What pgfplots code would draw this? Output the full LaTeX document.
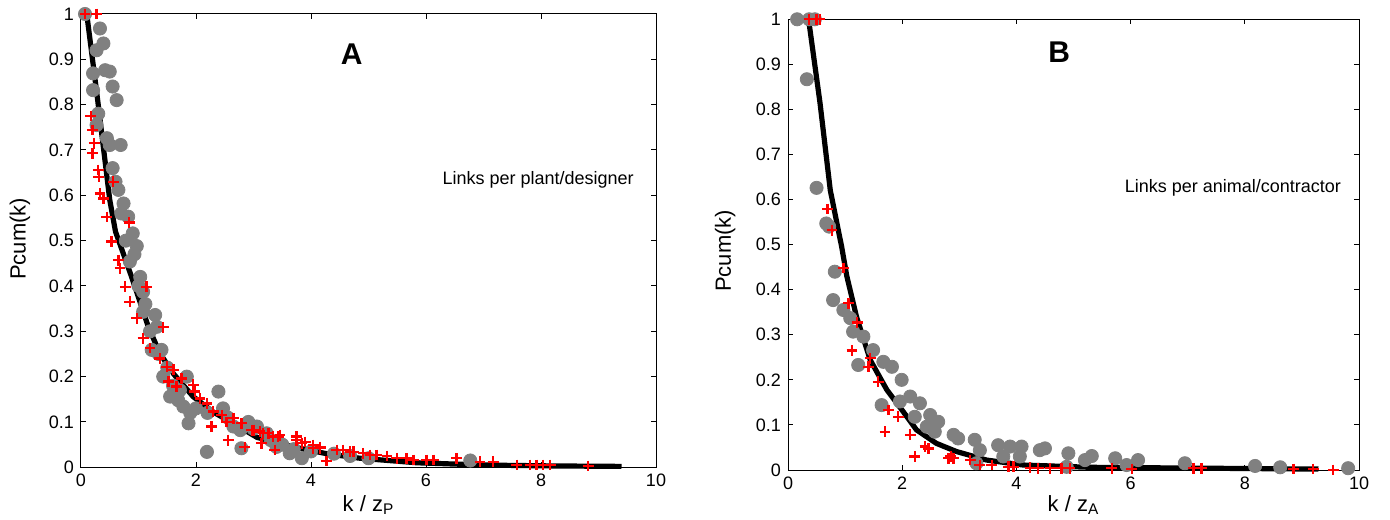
\documentclass[border=0pt]{standalone}
\usepackage{fontspec}
\setmainfont{Liberation Sans}
\usepackage{pgfplots}
\pgfplotsset{compat=1.18}
\definecolor{mgray}{RGB}{128,128,128}
\definecolor{mred}{RGB}{255,0,0}
\pgfplotsset{
  mstyle/.style={
    scale only axis,
    xmin=0, xmax=10, ymin=0, ymax=1,
    xtick={0,2,4,6,8,10},
    ytick={0,0.1,0.2,0.3,0.4,0.5,0.6,0.7,0.8,0.9,1},
    yticklabels={0,0.1,0.2,0.3,0.4,0.5,0.6,0.7,0.8,0.9,1},
    xticklabels={0,2,4,6,8,10},
    tick align=inside,
    major tick length=2.5pt,
    axis line style={line width=0.5pt},
    every tick/.style={black, line width=0.5pt},
    tick label style={font=\fontsize{9}{10}\selectfont},
    label style={font=\fontsize{11}{12}\selectfont},
    clip=false,
  },
  gdots/.style={only marks, mark=*, mark size=3.3pt, mark options={fill=mgray, draw=mgray}},
  rplus/.style={only marks, mark=+, mark size=2.7pt, mark options={draw=mred, line width=1.15pt}},
  fitline/.style={no marks, black, line width=2.6pt},
}
\begin{document}
\begin{tikzpicture}
\path[use as bounding box] (0,0) rectangle (695pt,259.5pt);
% ---------------- Panel A ----------------
\begin{axis}[mstyle, at={(40.5pt,25.85pt)}, anchor=south west,
  width=287.5pt, height=226.65pt,
  xlabel={k / z\textsubscript{P}}, ylabel={Pcum(k)},
  xlabel style={at={(axis description cs:0.5,-0.083)}, anchor=center},
  ylabel style={at={(axis description cs:-0.106,0.504)}, anchor=center, rotate=0},
]
\addplot[gdots] coordinates {
(0.07,1.0)(0.33,0.968)(0.39,0.935)(0.27,0.92)(0.21,0.869)(0.42,0.876)(0.50,0.873)
(0.21,0.832)(0.55,0.84)(0.62,0.81)(0.30,0.78)(0.27,0.755)(0.45,0.726)(0.50,0.711)
(0.69,0.711)(0.55,0.66)(0.60,0.63)(0.65,0.612)(0.74,0.582)(0.70,0.56)(0.82,0.553)(0.90,0.516)
(0.78,0.50)(0.97,0.488)(0.93,0.47)(0.85,0.454)(1.03,0.42)(1.00,0.40)(1.08,0.387)(1.12,0.36)
(1.08,0.343)(1.29,0.336)(1.32,0.31)(1.20,0.30)(1.23,0.259)(1.40,0.259)(1.35,0.25)
(1.50,0.22)(1.43,0.2)(1.60,0.18)(1.72,0.17)(1.55,0.156)(1.69,0.148)(1.78,0.134)(1.84,0.2)
(1.90,0.12)(1.87,0.097)(2.00,0.13)(2.19,0.034)(2.20,0.12)(2.39,0.167)(2.47,0.13)(2.55,0.11)
(2.65,0.09)(2.77,0.082)(2.79,0.042)(2.91,0.10)(3.00,0.085)(3.06,0.09)(3.23,0.075)(3.30,0.06)
(3.40,0.045)(3.50,0.05)(3.63,0.031)(3.70,0.04)(3.84,0.02)(4.00,0.035)(4.40,0.03)
(4.68,0.025)(5.00,0.02)(6.77,0.015)
};
\addplot[rplus] coordinates {
(0.07,1.0)(0.27,1.0)(0.17,0.775)(0.20,0.744)(0.23,0.715)(0.20,0.693)(0.30,0.656)
(0.31,0.641)(0.56,0.63)(0.33,0.604)(0.39,0.593)(0.45,0.552)(0.84,0.54)(0.53,0.498)
(0.65,0.457)(0.68,0.439)(0.77,0.398)(1.14,0.398)(0.85,0.365)(0.97,0.329)(1.43,0.309)
(1.08,0.285)(1.20,0.263)(1.37,0.24)(1.49,0.222)(1.61,0.215)(1.52,0.189)(1.66,0.178)
(1.75,0.196)(1.95,0.182)(1.98,0.167)(2.07,0.152)(2.19,0.141)(2.30,0.123)(2.27,0.09)
(2.45,0.115)(2.53,0.10)(2.56,0.06)(2.65,0.108)(2.79,0.097)(2.85,0.045)(2.97,0.082)
(3.0,0.082)(3.11,0.079)(3.17,0.075)(3.26,0.075)(3.14,0.053)(3.34,0.068)(3.43,0.068)
(3.46,0.071)(3.37,0.038)(3.75,0.068)(3.75,0.06)(3.84,0.053)(3.90,0.056)(4.04,0.049)
(4.04,0.042)(4.16,0.045)(4.16,0.042)(4.27,0.014)(4.45,0.038)(4.56,0.038)(4.68,0.034)
(4.74,0.034)(4.91,0.031)(5.03,0.027)(5.14,0.027)(5.32,0.025)(5.49,0.02)(5.66,0.02)
(5.78,0.016)(6.01,0.016)(6.13,0.016)(6.53,0.02)(6.94,0.012)(7.17,0.012)(7.58,0.005)
(7.81,0.005)(7.92,0.005)(8.04,0.005)(8.16,0.005)(8.82,0.003)
};
\addplot[fitline] coordinates {
(0.10,1.00)(0.29,0.81)(0.50,0.59)(0.60,0.52)(0.74,0.47)(0.88,0.42)(1.06,0.352)
(1.17,0.31)(1.37,0.252)(1.61,0.206)(1.95,0.156)(2.30,0.122)(2.77,0.088)(3.06,0.066)
(3.69,0.045)(4.27,0.030)(4.85,0.020)(5.84,0.010)(6.99,0.005)(8.2,0.003)(9.40,0.002)
};
\node[font=\fontsize{15}{16}\selectfont\bfseries] at (axis cs:4.71,0.912) {A};
\node[font=\fontsize{9}{10}\selectfont] at (axis cs:7.95,0.634) {Links per plant/designer};
\end{axis}
% ---------------- Panel B ----------------
\begin{axis}[mstyle, at={(394pt,24.5pt)}, anchor=south west,
  width=285.5pt, height=225.35pt,
  xlabel={k / z\textsubscript{A}}, ylabel={Pcum(k)},
  xlabel style={at={(axis description cs:0.5,-0.078)}, anchor=center},
  ylabel style={at={(axis description cs:-0.110,0.486)}, anchor=center, rotate=0},
]
\addplot[gdots] coordinates {
(0.16,1.0)(0.37,1.0)(0.47,1.0)(0.33,0.867)(0.50,0.626)(0.67,0.547)(0.72,0.54)
(0.82,0.44)(0.79,0.377)(0.97,0.355)(1.09,0.337)(1.14,0.307)(1.32,0.296)(1.23,0.233)
(1.49,0.266)(1.67,0.24)(1.82,0.229)(1.99,0.2)(1.64,0.144)(1.96,0.152)(2.14,0.163)
(2.31,0.148)(2.22,0.118)(2.49,0.122)(2.63,0.107)(2.57,0.085)(2.43,0.096)(2.90,0.078)
(2.98,0.07)(3.27,0.067)(3.36,0.044)(3.30,0.015)(3.68,0.055)(3.89,0.052)(4.09,0.052)
(3.77,0.03)(4.06,0.03)(4.41,0.044)(4.50,0.048)(4.91,0.037)(4.88,0.007)(5.20,0.022)
(5.32,0.031)(5.73,0.026)(5.93,0.011)(6.13,0.022)(6.95,0.015)(8.18,0.009)(8.62,0.006)
(9.81,0.004)
};
\addplot[rplus] coordinates {
(0.37,1.0)(0.50,1.0)(0.56,1.0)(0.69,0.579)(0.77,0.532)(0.97,0.448)(1.06,0.37)
(1.21,0.327)(1.12,0.265)(1.44,0.248)(1.41,0.229)(1.58,0.196)(1.76,0.133)(1.93,0.118)
(1.70,0.085)(2.14,0.078)(2.22,0.03)(2.40,0.052)(2.46,0.048)(2.81,0.026)(2.90,0.026)
(2.85,0.03)(3.19,0.022)(3.36,0.011)(3.57,0.011)(3.86,0.007)(3.95,0.007)(4.24,0.005)
(4.38,0.004)(4.59,0.004)(4.79,0.004)(4.94,0.004)(5.67,0.004)(6.02,0.002)(7.10,0.004)
(7.24,0.004)(8.85,0.002)(9.20,0.002)(9.55,0.0)
};
\addplot[fitline] coordinates {
(0.36,1.0)(0.56,0.815)(0.74,0.621)(0.94,0.495)(1.03,0.43)(1.2,0.34)(1.44,0.244)
(1.73,0.178)(2.02,0.129)(2.25,0.089)(2.60,0.059)(2.95,0.041)(3.48,0.022)(4.12,0.011)
(5.29,0.006)(9.29,0.002)
};
\node[font=\fontsize{15}{16}\selectfont\bfseries] at (axis cs:4.75,0.927) {B};
\node[font=\fontsize{9}{10}\selectfont] at (axis cs:7.79,0.626) {Links per animal/contractor};
\end{axis}
\end{tikzpicture}
\end{document}
